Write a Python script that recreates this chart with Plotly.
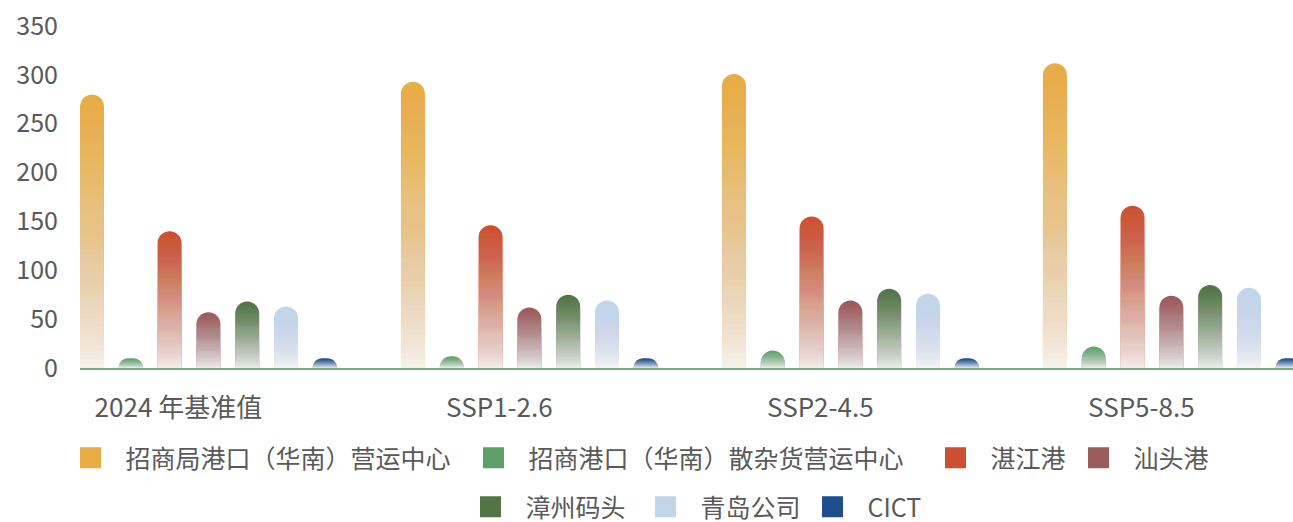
import plotly.graph_objects as go

# ---------------- data ----------------
categories = ["2024 年基准值", "SSP1-2.6", "SSP2-4.5", "SSP5-8.5"]
series_names = [
    "招商局港口（华南）营运中心",
    "招商港口（华南）散杂货营运中心",
    "湛江港",
    "汕头港",
    "漳州码头",
    "青岛公司",
    "CICT",
]
v_cmhk_south = [280, 293, 301, 312]
v_cmport_bulk = [10, 12, 18, 22]
v_zhanjiang = [140, 146, 155, 166]
v_shantou = [57, 62, 69, 74]
v_zhangzhou = [68, 75, 81, 85]
v_qingdao = [63, 69, 76, 82]
v_cict = [10, 10, 10, 10]
y_ticks = [0, 50, 100, 150, 200, 250, 300, 350]

series_values = [v_cmhk_south, v_cmport_bulk, v_zhanjiang, v_shantou,
                 v_zhangzhou, v_qingdao, v_cict]

# ---------------- style ----------------
colors = ["#E8AD45", "#5FA06A", "#CC5030", "#9A5B5D", "#527446", "#C2D5EB", "#1F4E8C"]
FONT = "Noto Sans CJK SC"
TXT = "#595959"
slot = 0.1209          # spacing between bars within a group (category units)
bar_w = 0.0748         # bar width (category units)
N_BANDS = 60           # gradient resolution
W_MAX = 0.97           # whiteness at the bottom of each bar
GAMMA = 1.15

# whiteness wanted in each band (bottom -> top), turned into nested overlay alphas
band_white = [W_MAX * (1 - (j + 0.5) / N_BANDS) ** GAMMA for j in range(N_BANDS)] + [0.0]
band_alpha = [1 - (1 - band_white[j]) / (1 - band_white[j + 1]) for j in range(N_BANDS)]

# legend layout (container px): left edge of symbol, row centre
legend_pos = [(80, 458), (483, 458), (945, 458), (1088, 458),
              (480, 507), (655, 507), (822, 507)]
FIG_W, FIG_H = 1293, 522

fig = go.Figure()

for k, (name, vals, col) in enumerate(zip(series_names, series_values, colors)):
    off = (k - 3) * slot - bar_w / 2
    # solid bar with rounded top
    fig.add_trace(go.Bar(
        x=categories, y=vals, name=name, width=bar_w, offset=off,
        marker=dict(color=col, line=dict(width=0), cornerradius=12),
        showlegend=False, legendgroup=name,
    ))
    # nested white overlays fading the bar towards its base
    for j in range(N_BANDS):
        fig.add_trace(go.Bar(
            x=categories,
            y=[v * (j + 1) / N_BANDS for v in vals],
            width=bar_w, offset=off,
            marker=dict(color=f"rgba(255,255,255,{band_alpha[j]:.4f})", line=dict(width=0)),
            showlegend=False, hoverinfo="skip", legendgroup=name,
        ))

# legend entries, one legend each so that they can be placed freely
for k, (name, col) in enumerate(zip(series_names, colors)):
    lg = "legend" if k == 0 else f"legend{k + 1}"
    fig.add_trace(go.Scatter(
        x=[None], y=[None], mode="markers", name=name, legendgroup=name,
        marker=dict(symbol="square", size=16, color=col, line=dict(color=col, width=5)),
        legend=lg, showlegend=True,
    ))

layout_legends = {}
for k, (px, py) in enumerate(legend_pos):
    key = "legend" if k == 0 else f"legend{k + 1}"
    layout_legends[key] = dict(
        xref="container", yref="container",
        x=(px - 24.5) / FIG_W, y=1 - py / FIG_H,
        xanchor="left", yanchor="middle",
        orientation="h", bgcolor="rgba(0,0,0,0)", borderwidth=0,
        font=dict(family=FONT, size=25, color=TXT), itemwidth=60,
    )

fig.update_layout(
    width=FIG_W, height=FIG_H,
    template="none",
    barmode="overlay",
    plot_bgcolor="white", paper_bgcolor="white",
    margin=dict(l=80, r=0, t=26, b=154),
    font=dict(family=FONT, color=TXT),
    xaxis=dict(
        type="category", categoryorder="array", categoryarray=categories,
        range=[-0.4, 3.379], showgrid=False, zeroline=False,
        showline=True, linecolor="#70AD7F", linewidth=2,
        ticks="", tickfont=dict(family=FONT, size=26, color=TXT),
        ticklabelstandoff=16, ticklabelshift=-30,
    ),
    yaxis=dict(
        range=[0, 350], tickvals=y_ticks, showgrid=False, zeroline=False,
        showline=False, ticks="", tickfont=dict(family=FONT, size=25, color=TXT),
        ticklabelstandoff=21,
    ),
    **layout_legends,
)

fig.write_html("out.html", config={"displayModeBar": False},
               post_script="document.body.style.margin='0';")
